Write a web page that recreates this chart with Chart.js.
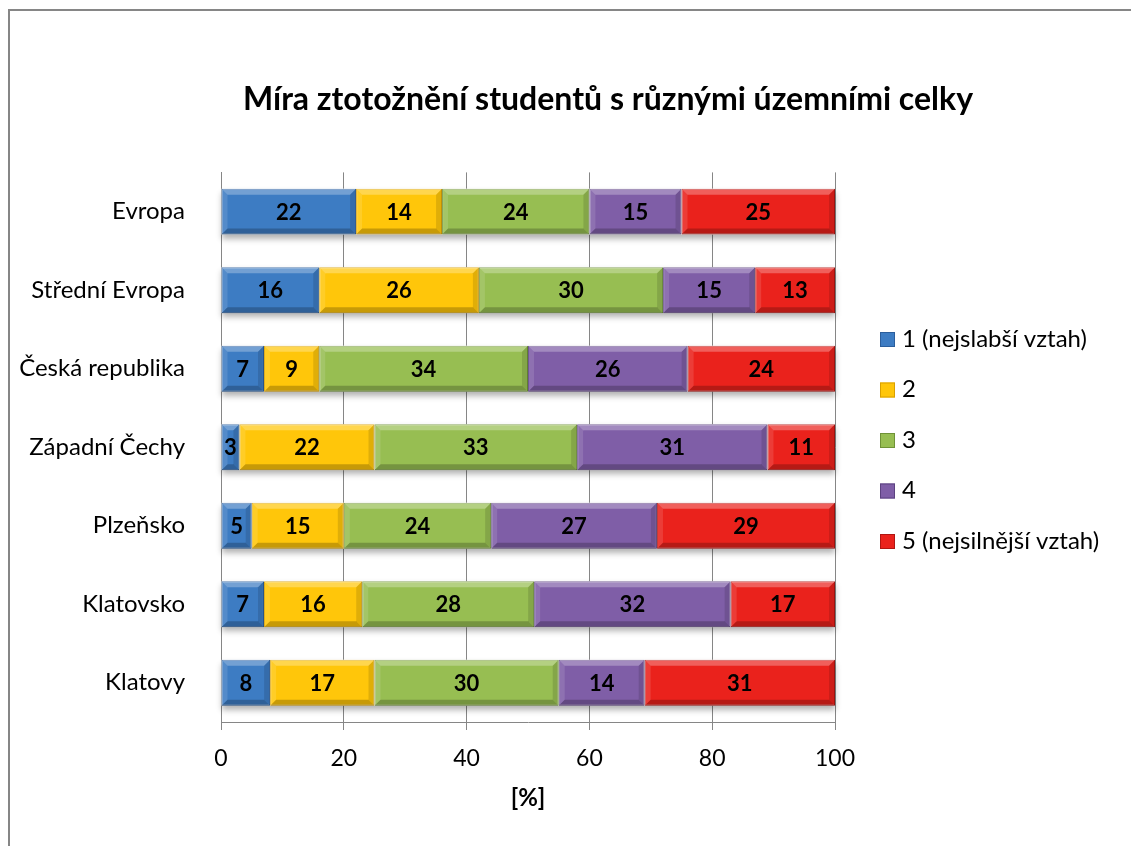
<!DOCTYPE html>
<html lang="cs">
<head>
  <meta charset="UTF-8">
  <title>Míra ztotožnění studentů</title>
  <script src="https://cdn.jsdelivr.net/npm/chart.js"></script>
  <style>
    html, body { margin: 0; padding: 0; background: #fff; overflow: hidden; width: 1131px; height: 846px; }
    #box { position: absolute; left: 8px; top: 9px; width: 1196px; height: 856px; border: 2px solid #868686; background: #fff; }
  </style>
</head>
<body>
  <div id="box"><canvas id="chart" width="1196" height="856"></canvas></div>

  <script>
    // data
    const categories = ['Evropa', 'Střední Evropa', 'Česká republika', 'Západní Čechy', 'Plzeňsko', 'Klatovsko', 'Klatovy'];
    const seriesNames = ['1 (nejslabší vztah)', '2', '3', '4', '5 (nejsilnější vztah)'];
    const level1 = [22, 16, 7, 3, 5, 7, 8];
    const level2 = [14, 26, 9, 22, 15, 16, 17];
    const level3 = [24, 30, 34, 33, 24, 28, 30];
    const level4 = [15, 15, 26, 31, 27, 32, 14];
    const level5 = [25, 13, 24, 11, 29, 17, 31];
    const xTicks = [0, 20, 40, 60, 80, 100];

    const colors = ['#3D7CC3', '#FFC60A', '#97BE52', '#7F5EA7', '#EA221C'];
    const edges = ['#2B5E9C', '#D9A000', '#6F9237', '#5C4280', '#B01612'];
    const font = 'Lato, "Liberation Sans", sans-serif';

    const values = [level1, level2, level3, level4, level5];
    const datasets = values.map((v, i) => ({
      label: seriesNames[i],
      data: v,
      backgroundColor: colors[i],
      borderColor: edges[i],
      borderWidth: 1,
      borderSkipped: false,
      categoryPercentage: 1,
      barPercentage: 0.585
    }));

    // soft shadow under each bar row
    const barShadow = {
      id: 'barShadow',
      beforeDatasetsDraw(chart) {
        const ctx = chart.ctx;
        const last = chart.getDatasetMeta(chart.data.datasets.length - 1).data;
        const first = chart.getDatasetMeta(0).data;
        ctx.save();
        ctx.shadowColor = 'rgba(0,0,0,0.30)';
        ctx.shadowBlur = 6;
        ctx.shadowOffsetY = 4;
        ctx.fillStyle = '#fff';
        first.forEach((el, j) => {
          const h = el.height;
          ctx.fillRect(el.base, el.y - h / 2, last[j].x - el.base, h);
        });
        ctx.restore();
      }
    };

    // bevel edges and value labels on each segment
    const valueLabels = {
      id: 'valueLabels',
      afterDatasetsDraw(chart) {
        const ctx = chart.ctx;
        ctx.save();
        chart.data.datasets.forEach((ds, i) => {
          chart.getDatasetMeta(i).data.forEach((el) => {
            const l = Math.min(el.base, el.x), r = Math.max(el.base, el.x);
            const t = el.y - el.height / 2, b = el.y + el.height / 2;
            const d = Math.min(6, (r - l) / 2);
            ctx.fillStyle = 'rgba(255,255,255,0.28)';
            ctx.beginPath();
            ctx.moveTo(l, t); ctx.lineTo(r, t); ctx.lineTo(r - d, t + d); ctx.lineTo(l + d, t + d); ctx.closePath();
            ctx.fill();
            ctx.fillStyle = 'rgba(255,255,255,0.12)';
            ctx.beginPath();
            ctx.moveTo(l, t); ctx.lineTo(l + d, t + d); ctx.lineTo(l + d, b - d); ctx.lineTo(l, b); ctx.closePath();
            ctx.fill();
            ctx.fillStyle = 'rgba(0,0,0,0.22)';
            ctx.beginPath();
            ctx.moveTo(l, b); ctx.lineTo(r, b); ctx.lineTo(r - d, b - d); ctx.lineTo(l + d, b - d); ctx.closePath();
            ctx.fill();
            ctx.fillStyle = 'rgba(0,0,0,0.12)';
            ctx.beginPath();
            ctx.moveTo(r, t); ctx.lineTo(r - d, t + d); ctx.lineTo(r - d, b - d); ctx.lineTo(r, b); ctx.closePath();
            ctx.fill();
          });
        });
        ctx.font = 'bold 22px ' + font;
        ctx.fillStyle = '#000';
        ctx.textAlign = 'center';
        ctx.textBaseline = 'middle';
        chart.data.datasets.forEach((ds, i) => {
          chart.getDatasetMeta(i).data.forEach((el, j) => {
            ctx.fillText(String(ds.data[j]), (el.x + el.base) / 2, el.y + 1);
          });
        });
        ctx.restore();
      }
    };

    // legend on the right
    const sideLegend = {
      id: 'sideLegend',
      afterDraw(chart) {
        const ctx = chart.ctx;
        const area = chart.chartArea;
        const mid = 429;
        ctx.save();
        ctx.font = '24px ' + font;
        ctx.textBaseline = 'middle';
        ctx.textAlign = 'left';
        chart.data.datasets.forEach((ds, i) => {
          const y = mid + (i - 2) * 50.5;
          const x = area.right + 45;
          ctx.fillStyle = ds.backgroundColor;
          ctx.fillRect(x, y - 7, 15, 15);
          ctx.strokeStyle = ds.borderColor;
          ctx.lineWidth = 1;
          ctx.strokeRect(x + 0.5, y - 6.5, 14, 14);
          ctx.fillStyle = '#000';
          ctx.fillText(ds.label, x + 22, y);
        });
        ctx.restore();
      }
    };

    const ctx = document.getElementById('chart').getContext('2d');
    new Chart(ctx, {
      type: 'bar',
      data: { labels: categories, datasets: datasets },
      plugins: [barShadow, valueLabels, sideLegend],
      options: {
        indexAxis: 'y',
        responsive: false,
        animation: false,
        layout: { padding: 0 },
        plugins: {
          legend: { display: false },
          tooltip: { enabled: false },
          title: {
            display: true,
            text: 'Míra ztotožnění studentů s různými územními celky',
            color: '#000',
            font: { family: font, size: 32, weight: 'bold' },
            padding: { top: 69, bottom: 54 }
          }
        },
        scales: {
          x: {
            stacked: true,
            min: 0,
            max: 100,
            afterBuildTicks(scale) { scale.ticks = xTicks.map(v => ({ value: v })); },
            afterFit(scale) { scale.height = 145; },
            grid: { color: '#868686', lineWidth: 1, tickLength: 8, drawTicks: true },
            border: { color: '#868686', width: 1 },
            ticks: { color: '#000', font: { family: font, size: 23 }, padding: 15 },
            title: {
              display: true,
              text: '[%]',
              color: '#000',
              font: { family: font, size: 24, weight: 'bold' },
              padding: { top: 4, bottom: 54 }
            }
          },
          y: {
            stacked: true,
            afterFit(scale) { scale.width = 211; },
            grid: { display: false },
            border: { color: '#868686', width: 1 },
            ticks: { color: '#000', font: { family: font, size: 24 }, padding: 28 }
          },
          // empty axis on the right that keeps room for the legend
          yr: {
            axis: 'y',
            type: 'category',
            position: 'right',
            afterFit(scale) { scale.width = 371; },
            grid: { display: false },
            border: { display: false },
            ticks: { display: false }
          }
        }
      }
    });
  </script>
</body>
</html>
